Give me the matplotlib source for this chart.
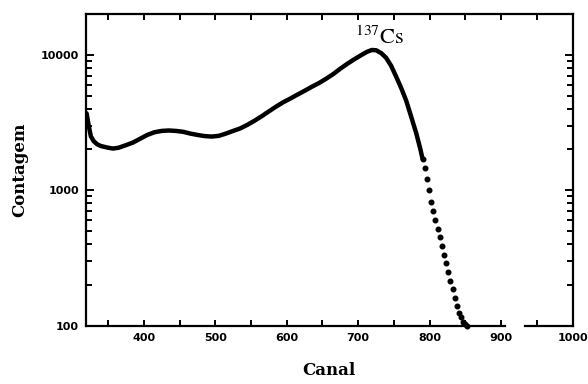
#!/usr/bin/env python3

import matplotlib
matplotlib.use('Agg')
import matplotlib.pyplot as plt
from matplotlib.ticker import MultipleLocator, LogLocator, FixedLocator, NullFormatter

plt.rcParams['mathtext.fontset'] = 'stix'

# dense part of the spectrum
canal = [320, 323, 326, 330, 335, 340, 350, 357, 365, 375, 385, 395, 405, 415,
         425, 435, 445, 455, 465, 475, 485, 495, 505, 515, 525, 535, 545, 555,
         565, 575, 585, 595, 605, 615, 625, 635, 645, 655, 665, 675, 685, 695,
         705, 712, 719, 725, 732, 739, 746, 753, 760, 767, 774, 781, 787, 790]
contagem = [3700, 3000, 2500, 2300, 2180, 2120, 2060, 2030, 2060, 2150, 2250,
            2400, 2560, 2680, 2740, 2760, 2740, 2700, 2620, 2560, 2510, 2490,
            2520, 2620, 2740, 2860, 3040, 3260, 3520, 3820, 4140, 4460, 4750,
            5080, 5420, 5800, 6180, 6650, 7200, 7900, 8600, 9300, 10000, 10500,
            10850, 10800, 10300, 9500, 8300, 6900, 5700, 4600, 3500, 2650,
            2000, 1700]

# tail of the peak, where single points can be seen
canal_tail = [790, 793, 796, 799, 802, 805, 808, 811, 814, 817, 820, 823, 826,
              829, 832, 835, 838, 841, 844, 847, 850, 852]
contagem_tail = [1700, 1450, 1200, 1000, 820, 700, 600, 520, 450, 390, 335,
                 290, 250, 215, 185, 160, 140, 125, 115, 107, 102, 100]

x_ticks = [400, 500, 600, 700, 800, 900, 1000]

fig = plt.figure(figsize=(5.88, 3.84), dpi=100)
ax = fig.add_axes([0.146, 0.152, 0.828, 0.8115])

ax.plot(canal, contagem, color='k', lw=3.2, solid_capstyle='round')
ax.plot(canal_tail, contagem_tail, 'o', color='k', ms=3.3, clip_on=False)

ax.set_yscale('log')
ax.set_xlim(319, 1000)
ax.set_ylim(100, 20000)

ax.xaxis.set_major_locator(FixedLocator(x_ticks))
ax.xaxis.set_minor_locator(MultipleLocator(50))
ax.yaxis.set_minor_locator(LogLocator(base=10, subs=range(2, 10), numticks=20))
ax.yaxis.set_minor_formatter(NullFormatter())
ax.set_yticks([100, 1000, 10000])
ax.set_yticklabels(['100', '1000', '10000'])
ax.set_xticklabels([str(t) for t in x_ticks])

ax.tick_params(which='both', direction='in', top=True, right=True, width=1.4)
ax.tick_params(which='major', length=6, pad=5)
ax.tick_params(axis='x', which='both', top=True, length=4)
ax.tick_params(axis='y', which='minor', length=4)
for lab in ax.get_xticklabels() + ax.get_yticklabels():
    lab.set_fontweight('bold')
    lab.set_fontsize(8)
    lab.set_family('DejaVu Sans')

for sp in ax.spines.values():
    sp.set_linewidth(1.6)
# broken bottom axis between 900 and 1000
ax.spines['bottom'].set_bounds(319, 905)
ax.plot([933, 1000], [0, 0], color='k', lw=1.6, clip_on=False,
        transform=ax.get_xaxis_transform())

ax.text(696, 12050, r'$^{137}\mathrm{Cs}$', fontsize=16, ha='left', va='baseline')

ax.set_xlabel('Canal', fontsize=12, fontweight='bold', family='DejaVu Serif', labelpad=14)
ax.set_ylabel('Contagem', fontsize=12, fontweight='bold', family='DejaVu Serif', labelpad=9)

fig.savefig('out.png', dpi=100)
